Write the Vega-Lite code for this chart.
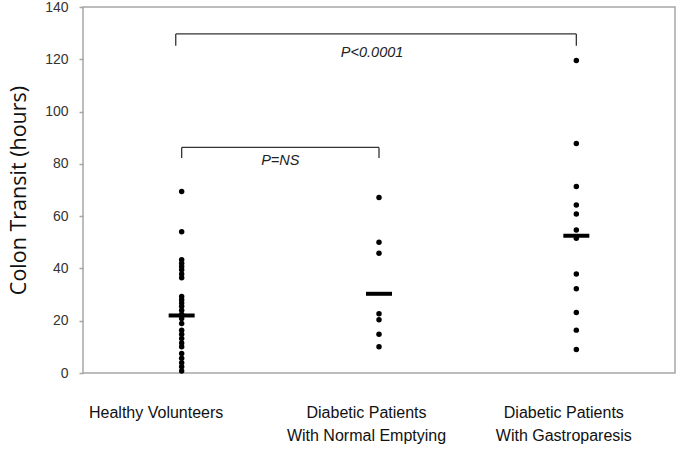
{
  "$schema": "https://vega.github.io/schema/vega-lite/v6.json",
  "width": 592,
  "height": 366,
  "autosize": "none",
  "padding": {"left": 83, "top": 7, "right": 3, "bottom": 89},
  "background": "white",
  "config": {
    "view": {"stroke": "#a6a6a6", "strokeWidth": 1.5},
    "font": "Liberation Sans"
  },
  "datasets": {
    "points": [
      {"group": "Healthy Volunteers", "hours": 69.4},
      {"group": "Healthy Volunteers", "hours": 54.0},
      {"group": "Healthy Volunteers", "hours": 43.3},
      {"group": "Healthy Volunteers", "hours": 42.0},
      {"group": "Healthy Volunteers", "hours": 40.7},
      {"group": "Healthy Volunteers", "hours": 39.5},
      {"group": "Healthy Volunteers", "hours": 37.9},
      {"group": "Healthy Volunteers", "hours": 36.4},
      {"group": "Healthy Volunteers", "hours": 29.3},
      {"group": "Healthy Volunteers", "hours": 28.0},
      {"group": "Healthy Volunteers", "hours": 26.8},
      {"group": "Healthy Volunteers", "hours": 25.5},
      {"group": "Healthy Volunteers", "hours": 24.0},
      {"group": "Healthy Volunteers", "hours": 22.5},
      {"group": "Healthy Volunteers", "hours": 20.8},
      {"group": "Healthy Volunteers", "hours": 18.9},
      {"group": "Healthy Volunteers", "hours": 16.4},
      {"group": "Healthy Volunteers", "hours": 14.8},
      {"group": "Healthy Volunteers", "hours": 13.2},
      {"group": "Healthy Volunteers", "hours": 11.5},
      {"group": "Healthy Volunteers", "hours": 10.0},
      {"group": "Healthy Volunteers", "hours": 7.5},
      {"group": "Healthy Volunteers", "hours": 5.6},
      {"group": "Healthy Volunteers", "hours": 3.9},
      {"group": "Healthy Volunteers", "hours": 2.4},
      {"group": "Healthy Volunteers", "hours": 0.8},
      {"group": "Diabetic Patients|With Normal Emptying", "hours": 67.1},
      {"group": "Diabetic Patients|With Normal Emptying", "hours": 50.0},
      {"group": "Diabetic Patients|With Normal Emptying", "hours": 45.8},
      {"group": "Diabetic Patients|With Normal Emptying", "hours": 22.7},
      {"group": "Diabetic Patients|With Normal Emptying", "hours": 20.4},
      {"group": "Diabetic Patients|With Normal Emptying", "hours": 14.8},
      {"group": "Diabetic Patients|With Normal Emptying", "hours": 10.0},
      {"group": "Diabetic Patients|With Gastroparesis", "hours": 119.5},
      {"group": "Diabetic Patients|With Gastroparesis", "hours": 87.8},
      {"group": "Diabetic Patients|With Gastroparesis", "hours": 71.3},
      {"group": "Diabetic Patients|With Gastroparesis", "hours": 64.3},
      {"group": "Diabetic Patients|With Gastroparesis", "hours": 60.8},
      {"group": "Diabetic Patients|With Gastroparesis", "hours": 54.7},
      {"group": "Diabetic Patients|With Gastroparesis", "hours": 51.5},
      {"group": "Diabetic Patients|With Gastroparesis", "hours": 37.9},
      {"group": "Diabetic Patients|With Gastroparesis", "hours": 32.2},
      {"group": "Diabetic Patients|With Gastroparesis", "hours": 23.1},
      {"group": "Diabetic Patients|With Gastroparesis", "hours": 16.4},
      {"group": "Diabetic Patients|With Gastroparesis", "hours": 9.0}
    ],
    "means": [
      {"group": "Healthy Volunteers", "hours": 22.0},
      {"group": "Diabetic Patients|With Normal Emptying", "hours": 30.3},
      {"group": "Diabetic Patients|With Gastroparesis", "hours": 52.5}
    ],
    "brackets": [
      {"from": 0.97, "to": 3.0, "y1": 129.7, "y2": 129.7},
      {"from": 0.97, "to": 0.97, "y1": 129.7, "y2": 125.2},
      {"from": 3.0, "to": 3.0, "y1": 129.7, "y2": 125.2},
      {"from": 1.0, "to": 2.0, "y1": 86.3, "y2": 86.3},
      {"from": 1.0, "to": 1.0, "y1": 86.3, "y2": 82.2},
      {"from": 2.0, "to": 2.0, "y1": 86.3, "y2": 82.2}
    ],
    "labels": [
      {"pos": 1.965, "y": 122.5, "text": "P<0.0001"},
      {"pos": 1.5, "y": 81.0, "text": "P=NS"}
    ]
  },
  "resolve": {"scale": {"x": "independent"}},
  "layer": [
    {
      "data": {"name": "brackets"},
      "mark": {"type": "rule", "color": "#333333", "strokeWidth": 1.3},
      "encoding": {
        "x": {"field": "from", "type": "quantitative", "scale": {"domain": [0.5, 3.5], "nice": false, "zero": false}, "axis": null},
        "x2": {"field": "to"},
        "y": {"field": "y1", "type": "quantitative", "scale": {"domain": [0, 140], "nice": false}},
        "y2": {"field": "y2"}
      }
    },
    {
      "data": {"name": "labels"},
      "mark": {"type": "text", "fontStyle": "italic", "fontSize": 14.5, "color": "#222222", "baseline": "middle", "align": "center"},
      "encoding": {
        "x": {"field": "pos", "type": "quantitative", "scale": {"domain": [0.5, 3.5], "nice": false, "zero": false}, "axis": null},
        "y": {"field": "y", "type": "quantitative"},
        "text": {"field": "text"}
      }
    },
    {
      "data": {"name": "points"},
      "mark": {"type": "circle", "size": 30, "color": "black", "opacity": 1},
      "encoding": {
        "x": {
          "field": "group", "type": "nominal",
          "scale": {"type": "point", "padding": 0.5, "domain": ["Healthy Volunteers", "Diabetic Patients|With Normal Emptying", "Diabetic Patients|With Gastroparesis"]},
          "axis": {
            "title": null, "ticks": false, "domain": false, "labelAngle": 0,
            "labelExpr": "split(datum.label, '|')",
            "labelAlign": "center",
            "labelFontSize": 16, "labelColor": "#111111", "labelBaseline": "top",
            "labelLineHeight": 23, "labelPadding": 31,
            "labelOffset": {"condition": {"test": "datum.value == 'Healthy Volunteers'", "value": -26}, "value": -13}
          }
        },
        "y": {
          "field": "hours", "type": "quantitative",
          "scale": {"domain": [0, 140], "nice": false},
          "axis": {
            "values": [0, 20, 40, 60, 80, 100, 120, 140],
            "grid": false, "domain": false,
            "tickSize": 4, "tickColor": "#a6a6a6", "tickWidth": 1.5,
            "labelPadding": 11, "labelFontSize": 14, "labelColor": "#333333",
            "title": "Colon Transit (hours)", "titleFont": "Open Sans",
            "titleFontSize": 21.5, "titleFontWeight": "normal", "titleColor": "#111111",
            "titlePadding": 14
          }
        }
      }
    },
    {
      "data": {"name": "means"},
      "mark": {"type": "tick", "color": "black", "size": 26, "thickness": 4, "orient": "horizontal", "opacity": 1},
      "encoding": {
        "x": {"field": "group", "type": "nominal", "scale": {"type": "point", "padding": 0.5, "domain": ["Healthy Volunteers", "Diabetic Patients|With Normal Emptying", "Diabetic Patients|With Gastroparesis"]}, "axis": null},
        "y": {"field": "hours", "type": "quantitative"}
      }
    }
  ]
}
